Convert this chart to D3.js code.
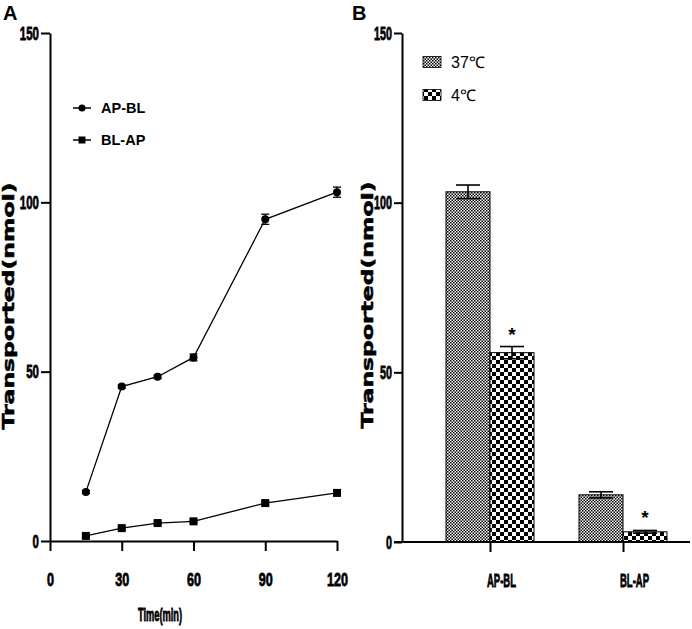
<!DOCTYPE html>
<html>
<head>
<meta charset="utf-8">
<script src="https://cdn.jsdelivr.net/npm/d3@7"></script>
<style>
	body { margin:0; background:#FFFFFF; }
	.tckLbl { font-family:"Liberation Sans",Arial,sans-serif; font-weight:bold; font-size:19px; fill:#000000; stroke:#000000; stroke-width:0.8px; }
</style>
</head>
<body>
<div id="chartCntr"></div>
<script>
// panel A : time course
let timeMin 	= [ 15, 30, 45, 60, 90, 120 ] ;
let apblVals 	= [ 14.5, 45.6, 48.5, 54.2, 95.0, 103.0 ] ;
let apblErr 	= [ 0.4, 0.5, 0.5, 1.0, 1.5, 1.5 ] ;
let blapVals 	= [ 1.5, 3.8, 5.3, 5.8, 11.2, 14.2 ] ;
let blapErr 	= [ 0.4, 0.4, 0.4, 0.4, 0.5, 0.6 ] ;
let xTicksA 	= [ 0, 30, 60, 90, 120 ] ;
let yTicks 		= [ 0, 50, 100, 150 ] ;
let lineSeries 	= [ "AP-BL", "BL-AP" ] ;

// panel B : temperature
let barGroups 	= [ "AP-BL", "BL-AP" ] ;
let tempSeries 	= [ "37℃", "4℃" ] ;
let bar37Vals 	= [ 103.2, 13.9 ] ;
let bar37Err 	= [ 2.0, 0.9 ] ;
let bar4Vals 	= [ 55.8, 3.0 ] ;
let bar4Err 	= [ 1.8, 0.4 ] ;
let sigMarks 	= [ "*", "*" ] ;

let yTitle = "Transported(nmol)" ;

let mySvg = d3.select("#chartCntr")
	.append("svg")
		.attr("width", 692)
		.attr("height", 629)
		.style("font-family", "'Liberation Sans',Arial,sans-serif")
;

mySvg.append("rect").attr("width", 692).attr("height", 629).attr("fill", "#FFFFFF") ;

// checker patterns
let defs = mySvg.append("defs") ;
let mkChecker = ( id, cell )=>{
	let p = defs.append("pattern")
		.attr("id", id)
		.attr("patternUnits", "userSpaceOnUse")
		.attr("width", cell*2)
		.attr("height", cell*2) ;
	p.append("rect").attr("width", cell*2).attr("height", cell*2).attr("fill", "#FFFFFF") ;
	p.append("rect").attr("width", cell).attr("height", cell).attr("fill", "#000000") ;
	p.append("rect").attr("x", cell).attr("y", cell).attr("width", cell).attr("height", cell).attr("fill", "#000000") ;
}
mkChecker("pat37", 1.5) ;
mkChecker("pat4", 4) ;
let patFills = [ "url(#pat37)", "url(#pat4)" ] ;

// squeeze text into a narrow bold look, like the condensed labels of the original
let squeeze = ( sel, perChar )=>{
	sel.attr("textLength", function(){ return this.textContent.length * perChar ; })
		.attr("lengthAdjust", "spacingAndGlyphs") ;
}

let styleAxis = ( g, perChar )=>{
	g.attr("font-family", null).attr("font-size", null) ;
	g.select(".domain").attr("stroke", "#000000").attr("stroke-width", 2) ;
	g.selectAll(".tick line").attr("stroke", "#000000").attr("stroke-width", 2) ;
	g.selectAll(".tick text").attr("class", "tckLbl").call( squeeze, perChar ) ;
}

let addYTitle = ( x, y )=>{
	mySvg.append("text")
		.attr("transform", "translate(" + x + "," + y + ") rotate(-90)")
		.attr("text-anchor", "middle")
		.attr("font-family", "'DejaVu Sans',sans-serif")
		.attr("font-weight", "bold")
		.attr("font-size", "15px")
		.attr("stroke", "#000000")
		.attr("stroke-width", 0.5)
		.attr("textLength", 247)
		.attr("lengthAdjust", "spacingAndGlyphs")
		.text(yTitle) ;
}

/* ---------------- panel A ---------------- */
let xA = d3.scaleLinear().domain([0, 120]).range([50, 337]) ;
let yA = d3.scaleLinear().domain([0, 150]).range([541, 33]) ;

mySvg.append("text").attr("x", 3).attr("y", 20).attr("font-weight", "bold").attr("font-size", "20px").text("A") ;

mySvg.append("g")
	.attr("transform", "translate(0,541)")
	.call( d3.axisBottom(xA).tickValues(xTicksA).tickSize(10).tickSizeOuter(0).tickPadding(22) )
	.call( styleAxis, 7 ) ;

mySvg.append("g")
	.attr("transform", "translate(50,0)")
	.call( d3.axisLeft(yA).tickValues(yTicks).tickSize(9).tickSizeOuter(0).tickPadding(2) )
	.call( styleAxis, 6.4 ) ;

mySvg.append("text")
	.attr("class", "tckLbl")
	.attr("x", 160).attr("y", 621)
	.attr("text-anchor", "middle")
	.style("font-size", "18px")
	.text("Time(min)")
	.call( squeeze, 4.9 ) ;

addYTitle(14, 306) ;

let lineData = [
	timeMin.map( (t,i)=>({ t:t, v:apblVals[i], e:apblErr[i] }) ),
	timeMin.map( (t,i)=>({ t:t, v:blapVals[i], e:blapErr[i] }) )
] ;
let lineGen = d3.line().x( d=>xA(d.t) ).y( d=>yA(d.v) ) ;

lineData.forEach( (ser, si)=>{
	let g = mySvg.append("g") ;
	g.append("path").attr("d", lineGen(ser)).attr("fill", "none").attr("stroke", "#000000").attr("stroke-width", 1.3) ;
	let eb = g.selectAll(".eb").data(ser).enter().append("g") ;
	eb.append("line")
		.attr("x1", d=>xA(d.t)).attr("x2", d=>xA(d.t))
		.attr("y1", d=>yA(d.v - d.e)).attr("y2", d=>yA(d.v + d.e))
		.attr("stroke", "#000000").attr("stroke-width", 1.3) ;
	[ -1, 1 ].forEach( s=>{
		eb.append("line")
			.attr("x1", d=>xA(d.t) - 4).attr("x2", d=>xA(d.t) + 4)
			.attr("y1", d=>yA(d.v + s*d.e)).attr("y2", d=>yA(d.v + s*d.e))
			.attr("stroke", "#000000").attr("stroke-width", 1.3) ;
	}) ;
	if ( si === 0 ) {
		g.selectAll("circle").data(ser).enter().append("circle")
			.attr("cx", d=>xA(d.t)).attr("cy", d=>yA(d.v)).attr("r", 4).attr("fill", "#000000") ;
	} else {
		g.selectAll("rect").data(ser).enter().append("rect")
			.attr("x", d=>xA(d.t) - 4).attr("y", d=>yA(d.v) - 4).attr("width", 8).attr("height", 8).attr("fill", "#000000") ;
	}
}) ;

// legend A
lineSeries.forEach( (nm, i)=>{
	let ly = 108 + i*32 ;
	mySvg.append("line").attr("x1", 73).attr("x2", 91).attr("y1", ly).attr("y2", ly).attr("stroke", "#000000").attr("stroke-width", 1.5) ;
	if ( i === 0 ) {
		mySvg.append("circle").attr("cx", 82).attr("cy", ly).attr("r", 3.5).attr("fill", "#000000") ;
	} else {
		mySvg.append("rect").attr("x", 78.5).attr("y", ly - 3.5).attr("width", 7).attr("height", 7).attr("fill", "#000000") ;
	}
	mySvg.append("text").attr("x", 101).attr("y", ly + 5).attr("font-weight", "bold").attr("font-size", "14.5px").text(nm) ;
}) ;

/* ---------------- panel B ---------------- */
let xB = d3.scalePoint().domain(barGroups).range([490, 623]) ;
let xSub = d3.scaleBand().domain(tempSeries).range([-44, 44]) ;
let yB = d3.scaleLinear().domain([0, 150]).range([542, 33]) ;

mySvg.append("text").attr("x", 352).attr("y", 20).attr("font-weight", "bold").attr("font-size", "20px").text("B") ;

let barData = barGroups.map( (gp, i)=>[
	{ grp:gp, ser:tempSeries[0], v:bar37Vals[i], e:bar37Err[i], fill:patFills[0], sig:null },
	{ grp:gp, ser:tempSeries[1], v:bar4Vals[i],  e:bar4Err[i],  fill:patFills[1], sig:sigMarks[i] }
]).flat() ;

let barG = mySvg.append("g") ;
barG.selectAll("rect").data(barData).enter().append("rect")
	.attr("x", d=>xB(d.grp) + xSub(d.ser))
	.attr("y", d=>yB(d.v))
	.attr("width", xSub.bandwidth())
	.attr("height", d=>yB(0) - yB(d.v))
	.attr("fill", d=>d.fill)
	.attr("stroke", "#000000")
	.attr("stroke-width", 1) ;

let ebB = barG.selectAll(".ebB").data(barData).enter().append("g") ;
let bCx = d=>xB(d.grp) + xSub(d.ser) + xSub.bandwidth()/2 ;
ebB.append("line")
	.attr("x1", bCx).attr("x2", bCx)
	.attr("y1", d=>yB(d.v - d.e)).attr("y2", d=>yB(d.v + d.e))
	.attr("stroke", "#000000").attr("stroke-width", 1.6) ;
[ -1, 1 ].forEach( s=>{
	ebB.append("line")
		.attr("x1", d=>bCx(d) - 12).attr("x2", d=>bCx(d) + 12)
		.attr("y1", d=>yB(d.v + s*d.e)).attr("y2", d=>yB(d.v + s*d.e))
		.attr("stroke", "#000000").attr("stroke-width", 1.6) ;
}) ;
ebB.filter( d=>d.sig ).append("text")
	.attr("x", bCx).attr("y", d=>yB(d.v + d.e) - 6)
	.attr("text-anchor", "middle")
	.attr("font-weight", "bold")
	.attr("font-size", "19px")
	.text( d=>d.sig ) ;

let axB = mySvg.append("g")
	.attr("transform", "translate(0,542)")
	.call( d3.axisBottom(xB).tickSize(10).tickSizeOuter(0).tickPadding(22) )
	.call( styleAxis, 5.8 ) ;
axB.select(".domain").remove() ;
axB.selectAll(".tick text").attr("dx", 11) ;
axB.append("line").attr("x1", 394).attr("x2", 690).attr("stroke", "#000000").attr("stroke-width", 2) ;

mySvg.append("g")
	.attr("transform", "translate(402,0)")
	.call( d3.axisLeft(yB).tickValues(yTicks).tickSize(8).tickSizeOuter(0).tickPadding(2) )
	.call( styleAxis, 6.0 ) ;

addYTitle(373, 305) ;

// legend B
tempSeries.forEach( (nm, i)=>{
	let ly = 62 + i*33 ;
	mySvg.append("rect")
		.attr("x", 423).attr("y", ly - 5.5).attr("width", 18).attr("height", 11)
		.attr("fill", patFills[i]).attr("stroke", "#000000").attr("stroke-width", 0.8) ;
	mySvg.append("text").attr("x", 451).attr("y", ly + 6).attr("font-size", "16px").text(nm) ;
}) ;
</script>
</body>
</html>
